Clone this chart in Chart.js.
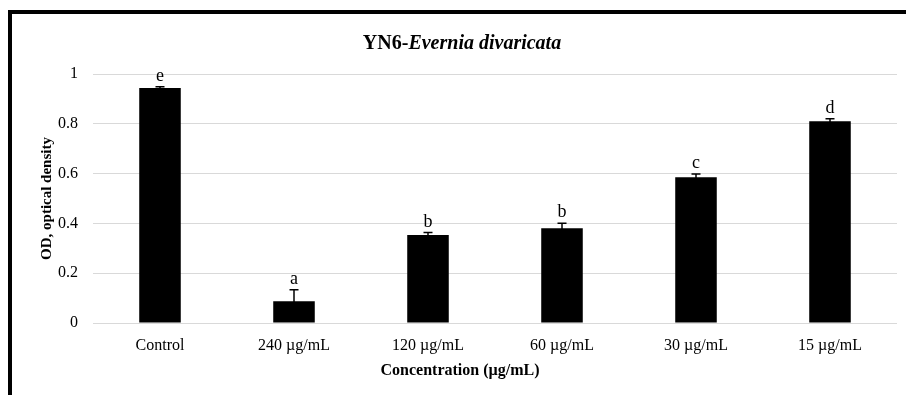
<!DOCTYPE html>
<html>
<head>
<meta charset="utf-8">
<script src="https://cdn.jsdelivr.net/npm/chart.js@4.4.1/dist/chart.umd.min.js"></script>
<style>
html,body{margin:0;padding:0;background:#fff;}
canvas{display:block;}
</style>
</head>
<body>
<canvas id="c" width="906" height="395"></canvas>
<script>
const categories = ['Control', '240 µg/mL', '120 µg/mL', '60 µg/mL', '30 µg/mL', '15 µg/mL'];
const means = [0.944, 0.087, 0.353, 0.381, 0.585, 0.810];
const errors = [0.005, 0.047, 0.010, 0.020, 0.013, 0.010];
const letters = ['e', 'a', 'b', 'b', 'c', 'd'];
const yTicks = [0, 0.2, 0.4, 0.6, 0.8, 1];
const titlePlain = 'YN6-';
const titleItalic = 'Evernia divaricata';
const xTitle = 'Concentration (µg/mL)';
const yTitle = 'OD, optical density';

const FONT = '"Liberation Serif", "Times New Roman", serif';

const extras = {
  id: 'extras',
  beforeDraw(chart) {
    const ctx = chart.ctx;
    ctx.save();
    ctx.fillStyle = '#fff';
    ctx.fillRect(0, 0, chart.width, chart.height);
    ctx.fillStyle = '#000';
    ctx.fillRect(8, 10, 4, chart.height - 10);
    ctx.fillRect(8, 10, chart.width - 8, 4);
    ctx.restore();
  },
  afterDatasetsDraw(chart) {
    const ctx = chart.ctx;
    const y = chart.scales.y;
    const meta = chart.getDatasetMeta(0);
    ctx.save();
    ctx.strokeStyle = '#000';
    ctx.lineWidth = 1.5;
    meta.data.forEach((bar, i) => {
      const x = bar.x;
      const top = y.getPixelForValue(means[i] + errors[i]);
      const bot = y.getPixelForValue(means[i] - errors[i]);
      ctx.beginPath();
      ctx.moveTo(x, top); ctx.lineTo(x, bot);
      ctx.moveTo(x - 4.5, top); ctx.lineTo(x + 4.5, top);
      ctx.moveTo(x - 4.5, bot); ctx.lineTo(x + 4.5, bot);
      ctx.stroke();
      ctx.fillStyle = '#000';
      ctx.font = '18px ' + FONT;
      ctx.textAlign = 'center';
      ctx.textBaseline = 'alphabetic';
      ctx.fillText(letters[i], x, top - 6);
    });
    // chart title
    ctx.textBaseline = 'alphabetic';
    ctx.font = 'bold 20px ' + FONT;
    const w1 = ctx.measureText(titlePlain).width;
    ctx.font = 'italic bold 20px ' + FONT;
    const w2 = ctx.measureText(titleItalic).width;
    const sx = 462 - (w1 + w2) / 2;
    ctx.textAlign = 'left';
    ctx.font = 'bold 20px ' + FONT;
    ctx.fillText(titlePlain, sx, 49);
    ctx.font = 'italic bold 20px ' + FONT;
    ctx.fillText(titleItalic, sx + w1, 49);
    // x axis title
    ctx.font = 'bold 16px ' + FONT;
    ctx.textAlign = 'center';
    ctx.fillText(xTitle, 460, 375);
    // y axis title
    ctx.translate(51, (chart.chartArea.top + chart.chartArea.bottom) / 2);
    ctx.rotate(-Math.PI / 2);
    ctx.font = 'bold 15px ' + FONT;
    ctx.fillText(yTitle, 0, 0);
    ctx.restore();
  }
};

new Chart(document.getElementById('c'), {
  type: 'bar',
  data: {
    labels: categories,
    datasets: [{
      data: means,
      backgroundColor: '#000',
      borderWidth: 0,
      barPercentage: 0.31,
      categoryPercentage: 1
    }]
  },
  options: {
    responsive: false,
    devicePixelRatio: 1,
    animation: false,
    layout: { padding: { left: 0, right: 9, top: 74, bottom: 0 } },
    plugins: { legend: { display: false }, title: { display: false }, tooltip: { enabled: false } },
    scales: {
      x: {
        grid: { display: false, drawTicks: false },
        border: { display: false },
        ticks: { color: '#000', font: { family: FONT, size: 16 }, padding: 13, maxRotation: 0 },
        afterFit(s) { s.height = 72; }
      },
      y: {
        min: 0, max: 1,
        afterBuildTicks(s) { s.ticks = yTicks.map(v => ({ value: v })); },
        grid: { color: '#d9d9d9', lineWidth: 1, drawTicks: false },
        border: { display: false },
        ticks: { color: '#000', font: { family: FONT, size: 16 }, padding: 15,
          callback: v => String(Math.round(v * 10) / 10) },
        afterFit(s) { s.width = 93; }
      }
    }
  },
  plugins: [extras]
});
</script>
</body>
</html>
